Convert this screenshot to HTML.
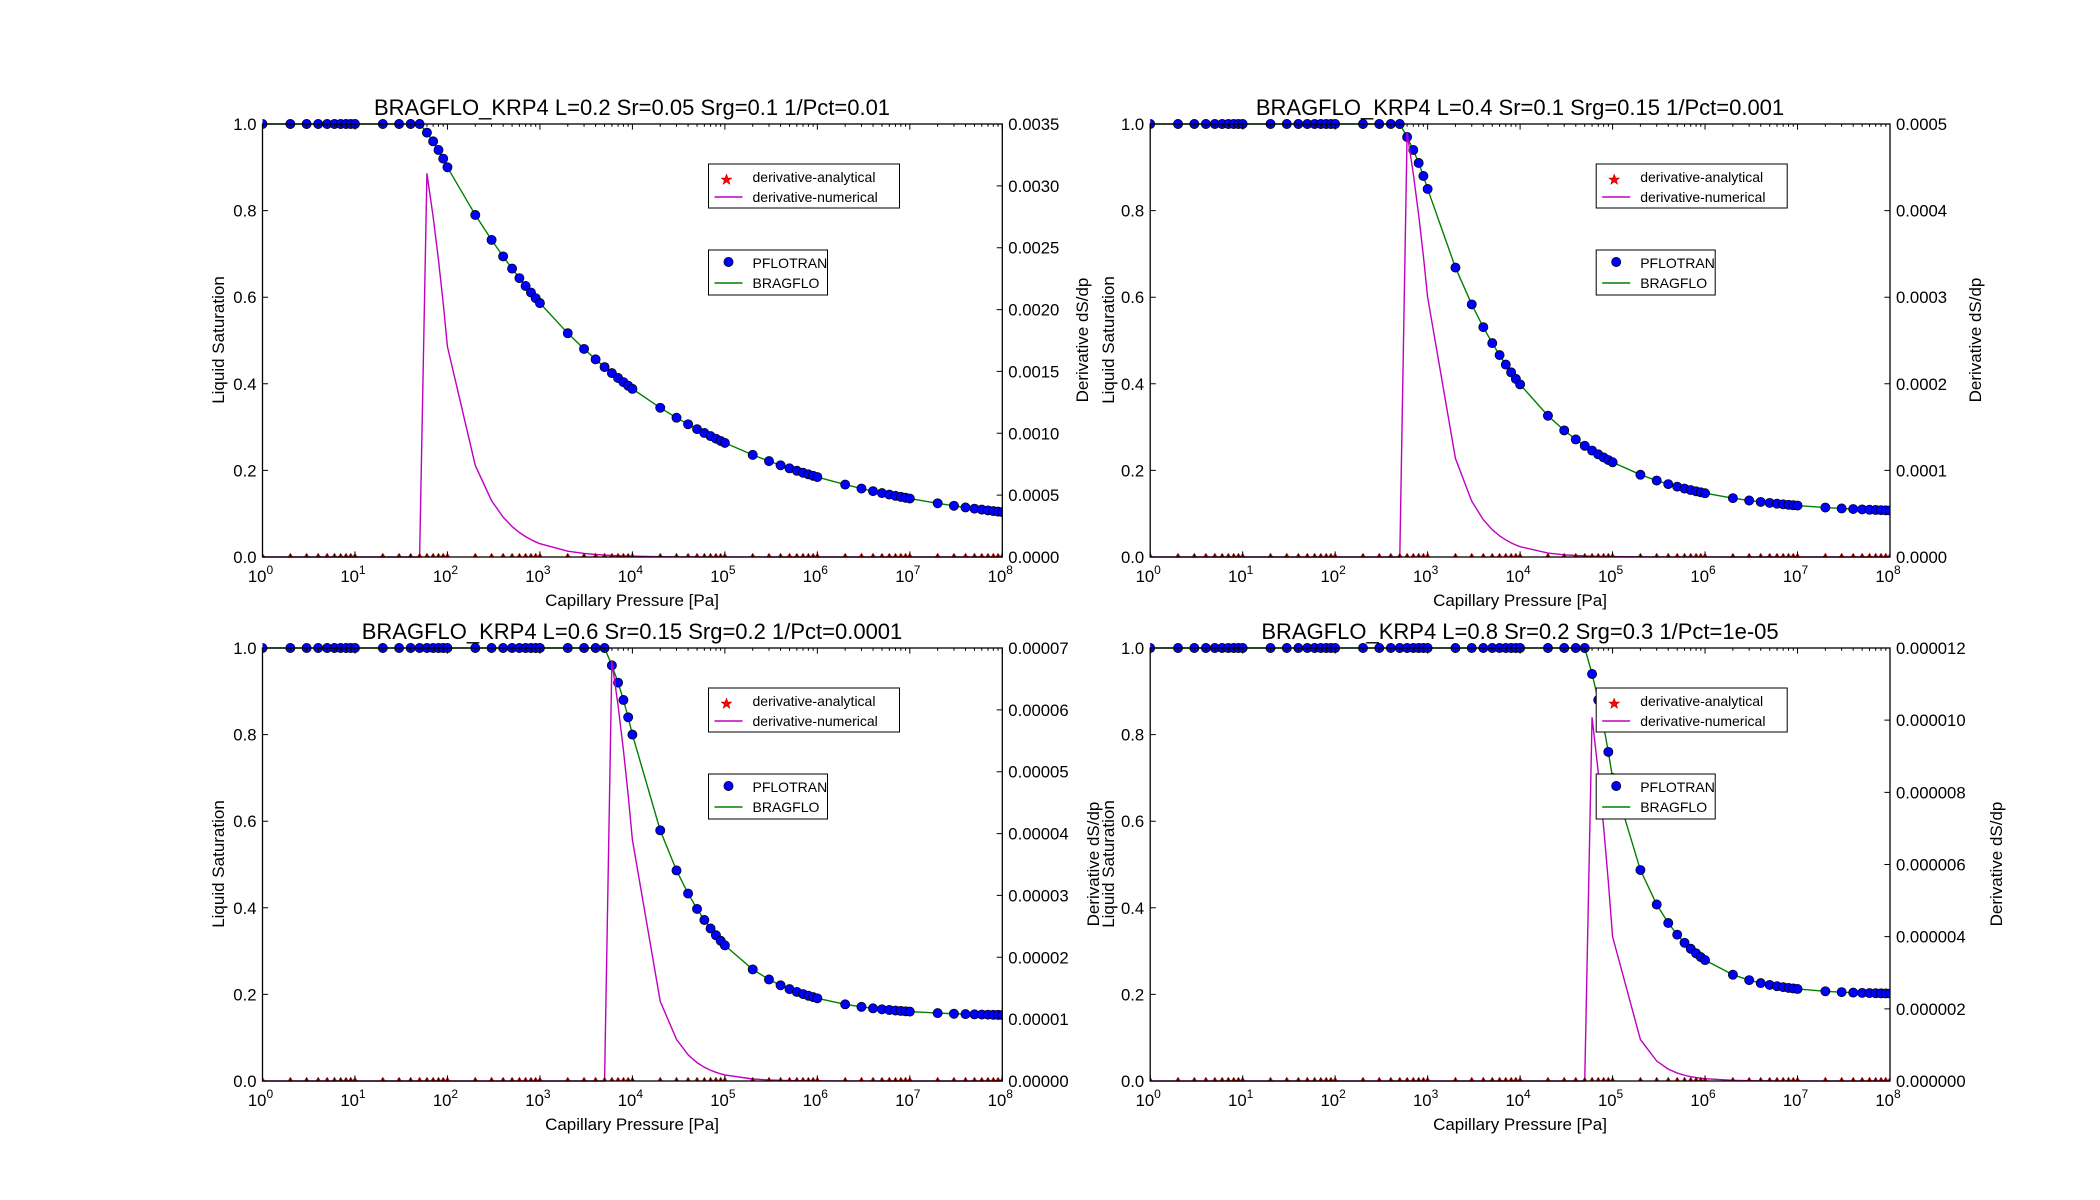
<!DOCTYPE html>
<html><head><meta charset="utf-8"><style>
html,body{margin:0;padding:0;background:#fff;}
svg{display:block;font-family:"Liberation Sans","DejaVu Sans",sans-serif;}
</style></head><body>
<svg id="s" width="2100" height="1200" viewBox="0 0 2100 1200" xmlns="http://www.w3.org/2000/svg">
<rect width="2100" height="1200" fill="#fff"/>
<g font-size="22" text-anchor="middle">
<text x="632" y="115">BRAGFLO_KRP4 L=0.2 Sr=0.05 Srg=0.1 1/Pct=0.01</text>
<text x="1520" y="115">BRAGFLO_KRP4 L=0.4 Sr=0.1 Srg=0.15 1/Pct=0.001</text>
<text x="632" y="639">BRAGFLO_KRP4 L=0.6 Sr=0.15 Srg=0.2 1/Pct=0.0001</text>
<text x="1520" y="639">BRAGFLO_KRP4 L=0.8 Sr=0.2 Srg=0.3 1/Pct=1e-05</text>
</g>
<g font-size="17" text-anchor="middle">
<text x="632" y="606">Capillary Pressure [Pa]</text>
<text x="1520" y="606">Capillary Pressure [Pa]</text>
<text x="632" y="1130">Capillary Pressure [Pa]</text>
<text x="1520" y="1130">Capillary Pressure [Pa]</text>
<text transform="translate(224,340) rotate(-90)">Liquid Saturation</text>
<text transform="translate(224,864) rotate(-90)">Liquid Saturation</text>
<text transform="translate(1114,340) rotate(-90)">Liquid Saturation</text>
<text transform="translate(1114,864) rotate(-90)">Liquid Saturation</text>
<text transform="translate(1088,340) rotate(-90)">Derivative dS/dp</text>
<text transform="translate(1099,864) rotate(-90)">Derivative dS/dp</text>
<text transform="translate(1981,340) rotate(-90)">Derivative dS/dp</text>
<text transform="translate(2002,864) rotate(-90)">Derivative dS/dp</text>
</g>
<g id="dyn"></g>
<g id="txt" font-size="16.7"></g>
</svg>
<script>
var NS="http://www.w3.org/2000/svg";
var dyn=document.getElementById('dyn'), txt=document.getElementById('txt');
function el(tag,attrs,parent,text){var e=document.createElementNS(NS,tag);for(var k in attrs)e.setAttribute(k,attrs[k]);if(text!==undefined)e.textContent=text;(parent||dyn).appendChild(e);return e;}
var W=739.8,H=433;
var panels=[
 {x0:262.5,y0:124,L:0.2,Sr:0.05,Srg:0.1,Pct:100,f:0.886,rt:["0.0000","0.0005","0.0010","0.0015","0.0020","0.0025","0.0030","0.0035"]},
 {x0:1150.2,y0:124,L:0.4,Sr:0.1,Srg:0.15,Pct:1000,f:0.98,rt:["0.0000","0.0001","0.0002","0.0003","0.0004","0.0005"]},
 {x0:262.5,y0:648,L:0.6,Sr:0.15,Srg:0.2,Pct:10000,f:0.97,rt:["0.00000","0.00001","0.00002","0.00003","0.00004","0.00005","0.00006","0.00007"]},
 {x0:1150.2,y0:648,L:0.8,Sr:0.2,Srg:0.3,Pct:100000,f:0.84,rt:["0.000000","0.000002","0.000004","0.000006","0.000008","0.000010","0.000012"]}
];
var rmaxv=[0.0035,0.0005,0.00007,0.000012];
var ps=[];for(var k=0;k<8;k++)for(var m=1;m<=9;m++)ps.push(m*Math.pow(10,k));ps.push(1e8);
panels.forEach(function(P,pi){
 var X=function(p){return P.x0+Math.log10(p)/8*W;};
 var Y=function(s){return P.y0+H-s*H;};
 var rmax=rmaxv[pi];
 var Spct=P.Sr+(1-P.Sr-P.Srg);
 function S(p){if(p<=P.Pct/2)return 1; if(p<P.Pct){return 1-(1-Spct)*(p-P.Pct/2)/(P.Pct/2);} return P.Sr+(1-P.Sr-P.Srg)*Math.pow(P.Pct/p,P.L);}
 function A(p){return P.L*(1-P.Sr-P.Srg)/P.Pct*Math.pow(P.Pct/p,P.L+1)/rmax;}
 function D(p){if(p<=P.Pct/2*1.0001)return 0; if(p<P.Pct){var t=(p-0.6*P.Pct)/(0.4*P.Pct);return P.f+(A(P.Pct)-P.f)*t;} return A(p);}
 var cid='c'+pi;var cp=el('clipPath',{id:cid});el('rect',{x:P.x0,y:P.y0-6,width:W,height:H+12},cp);
 var g=el('g',{'clip-path':'url(#'+cid+')'});
 var d1='',d2='';
 ps.forEach(function(p,i){d1+=(i?'L':'M')+X(p).toFixed(2)+' '+Y(S(p)).toFixed(2);d2+=(i?'L':'M')+X(p).toFixed(2)+' '+Y(D(p)).toFixed(2);});
 el('path',{d:d1,fill:'none',stroke:'#008000','stroke-width':1.4},g);
 ps.forEach(function(p){el('circle',{cx:X(p),cy:Y(S(p)),r:4.6,fill:'#0000ff',stroke:'#000','stroke-width':0.7},g);});
 el('path',{d:d2,fill:'none',stroke:'#bf00bf','stroke-width':1.4},g);
 ps.forEach(function(p){var x=X(p),y=Y(0);el('path',{d:'M'+(x-2.5)+' '+y+'L'+x+' '+(y-4)+'L'+(x+2.5)+' '+y+'Z',fill:'#ff0000',stroke:'#800000','stroke-width':0.3},g);});
 el('rect',{x:P.x0,y:P.y0,width:W,height:H,fill:'none',stroke:'#000','stroke-width':1.3});
 var tk='';
 for(var k=0;k<=8;k++){var x=P.x0+k/8*W;tk+='M'+x+' '+(P.y0+H)+'v-5.6M'+x+' '+P.y0+'v5.6';
  var t=el('text',{x:x-2,y:P.y0+H+25,'text-anchor':'middle'},txt,'10');el('tspan',{dy:-8,'font-size':12},t,String(k));
  if(k<8)for(var m=2;m<=9;m++){var xm=P.x0+(k+Math.log10(m))/8*W;tk+='M'+xm+' '+(P.y0+H)+'v-2.8M'+xm+' '+P.y0+'v2.8';}}
 for(var j=0;j<=5;j++){var y=P.y0+H-j/5*H;tk+='M'+P.x0+' '+y+'h5.6';el('text',{x:P.x0-6,y:y+6,'text-anchor':'end'},txt,(j*0.2).toFixed(1));}
 var n=P.rt.length-1;
 for(var j=0;j<=n;j++){var y=P.y0+H-j/n*H;tk+='M'+(P.x0+W)+' '+y+'h-5.6';el('text',{x:P.x0+W+6,y:y+6,'text-anchor':'start'},txt,P.rt[j]);}
 el('path',{d:tk,stroke:'#000','stroke-width':1,fill:'none'});
 var lx=P.x0+446,ly=P.y0+40;
 el('rect',{x:lx,y:ly,width:191,height:44,fill:'#fff',stroke:'#000','stroke-width':1});
 el('path',{d:'M'+(lx+18)+' '+(ly+10)+'l1.5,4h4l-3.2,2.5 1.2,4-3.5-2.5-3.5,2.5 1.2-4-3.2-2.5h4z',fill:'#ff0000',stroke:'#800000','stroke-width':0.4});
 el('text',{x:lx+44,y:ly+18,'font-size':14},dyn,'derivative-analytical');
 el('path',{d:'M'+(lx+6)+' '+(ly+33)+'h28',stroke:'#bf00bf','stroke-width':1.4});
 el('text',{x:lx+44,y:ly+38,'font-size':14},dyn,'derivative-numerical');
 var ly2=P.y0+126;
 el('rect',{x:lx,y:ly2,width:119,height:45,fill:'#fff',stroke:'#000','stroke-width':1});
 el('circle',{cx:lx+20,cy:ly2+12,r:4.6,fill:'#0000ff',stroke:'#000','stroke-width':0.7});
 el('text',{x:lx+44,y:ly2+18,'font-size':14},dyn,'PFLOTRAN');
 el('path',{d:'M'+(lx+6)+' '+(ly2+33)+'h28',stroke:'#008000','stroke-width':1.4});
 el('text',{x:lx+44,y:ly2+38,'font-size':14},dyn,'BRAGFLO');
});
</script>
</body></html>
